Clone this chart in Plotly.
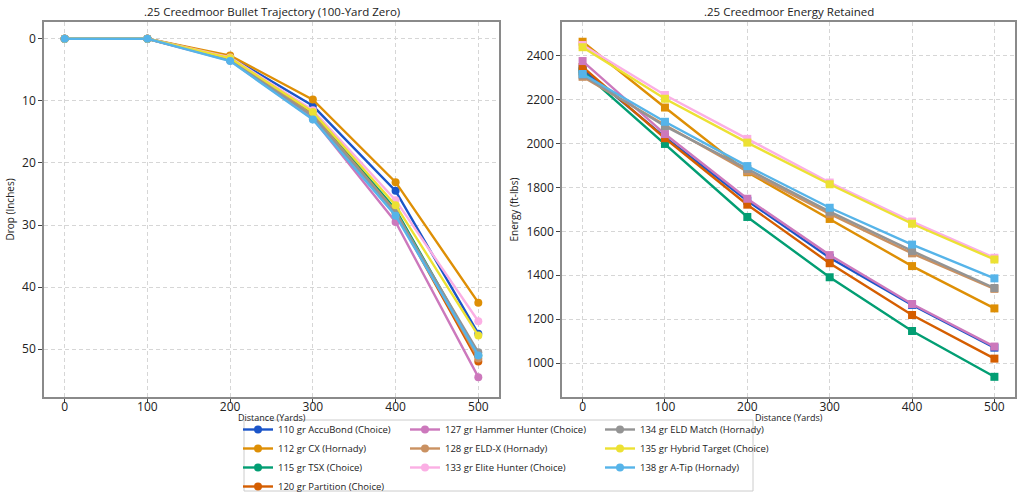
import plotly.graph_objects as go

distance = [0, 100, 200, 300, 400, 500]

names = [
    "110 gr AccuBond (Choice)",
    "112 gr CX (Hornady)",
    "115 gr TSX (Choice)",
    "120 gr Partition (Choice)",
    "127 gr Hammer Hunter (Choice)",
    "128 gr ELD-X (Hornady)",
    "133 gr Elite Hunter (Choice)",
    "134 gr ELD Match (Hornady)",
    "135 gr Hybrid Target (Choice)",
    "138 gr A-Tip (Hornady)",
]

colors = ["#1b55c9", "#DE8F05", "#029E73", "#D55E00", "#CC78BC",
          "#CA9161", "#FBAFE4", "#949494", "#ECE133", "#56B4E9"]

drop_110 = [0, 0, 2.9, 10.8, 24.5, 47.5]
drop_112 = [0, 0, 2.7, 9.8, 23.1, 42.5]
drop_115 = [0, 0, 3.2, 12.0, 27.5, 51.0]
drop_120 = [0, 0, 3.3, 12.3, 28.0, 52.0]
drop_127 = [0, 0, 3.5, 12.9, 29.5, 54.5]
drop_128 = [0, 0, 3.3, 12.3, 27.8, 51.5]
drop_133 = [0, 0, 3.0, 11.5, 26.0, 45.5]
drop_134 = [0, 0, 3.4, 12.5, 28.0, 50.5]
drop_135 = [0, 0, 3.1, 11.8, 26.8, 47.8]
drop_138 = [0, 0, 3.6, 13.0, 28.5, 51.0]

energy_110 = [2340, 2030, 1740, 1480, 1265, 1070]
energy_112 = [2465, 2165, 1870, 1657, 1442, 1249]
energy_115 = [2330, 1999, 1666, 1391, 1146, 937]
energy_120 = [2350, 2025, 1722, 1455, 1219, 1020]
energy_127 = [2377, 2044, 1749, 1492, 1269, 1075]
energy_128 = [2305, 2085, 1874, 1680, 1500, 1338]
energy_133 = [2450, 2222, 2022, 1823, 1645, 1480]
energy_134 = [2312, 2080, 1885, 1690, 1511, 1342]
energy_135 = [2440, 2205, 2005, 1815, 1635, 1472]
energy_138 = [2318, 2100, 1898, 1708, 1540, 1386]

drops = [drop_110, drop_112, drop_115, drop_120, drop_127,
         drop_128, drop_133, drop_134, drop_135, drop_138]
energies = [energy_110, energy_112, energy_115, energy_120, energy_127,
            energy_128, energy_133, energy_134, energy_135, energy_138]

legend_cols = ["legend", "legend", "legend", "legend",
               "legend2", "legend2", "legend2",
               "legend3", "legend3", "legend3"]

FONT = "Open Sans"
H_PLOT = 375.0  # plot area height in px (493 - 22 - 96)


def py(pix):
    """pixel row -> paper y"""
    return (397 - pix) / H_PLOT


fig = go.Figure()

for i, name in enumerate(names):
    fig.add_trace(go.Scatter(
        x=distance, y=drops[i], mode="lines+markers", name=name,
        line=dict(color=colors[i], width=2.4),
        marker=dict(symbol="circle", size=8, color=colors[i]),
        xaxis="x", yaxis="y", legendgroup=name, legend=legend_cols[i],
        legendrank=i))
for i, name in enumerate(names):
    fig.add_trace(go.Scatter(
        x=distance, y=energies[i], mode="lines+markers", name=name,
        line=dict(color=colors[i], width=2.4),
        marker=dict(symbol="square", size=8, color=colors[i]),
        xaxis="x2", yaxis="y2", legendgroup=name, showlegend=False))

axis_common = dict(
    showline=True, linecolor="#8a8a8a", linewidth=1.5, mirror=True,
    ticks="outside", ticklen=4, tickcolor="#444", tickwidth=1,
    showgrid=True, gridcolor="#d6d6d6", griddash="4px,3px", gridwidth=0.8,
    zeroline=False, tickfont=dict(size=12, color="#222", family=FONT),
)

fig.update_layout(
    width=1024, height=493,
    margin=dict(l=0, r=0, t=22, b=96, autoexpand=False),
    plot_bgcolor="white", paper_bgcolor="white",
    font=dict(family=FONT, color="#222"),
    xaxis=dict(domain=[44/1024, 499/1024], range=[-25, 525],
               tickvals=distance, anchor="y", ticklabelstandoff=-6,
               **axis_common),
    yaxis=dict(domain=[0, 1], range=[57.7, -2.7], tickvals=[0, 10, 20, 30, 40, 50],
               anchor="x",
               title=dict(text="Drop (Inches)", font=dict(size=10), standoff=6),
               **axis_common),
    xaxis2=dict(domain=[562/1024, 1015/1024], range=[-25, 525],
                tickvals=distance, anchor="y2", ticklabelstandoff=-6,
                **axis_common),
    yaxis2=dict(domain=[0, 1], range=[845, 2555],
                tickvals=[1000, 1200, 1400, 1600, 1800, 2000, 2200, 2400],
                anchor="x2",
                title=dict(text="Energy (ft-lbs)", font=dict(size=10), standoff=6),
                **axis_common),
    shapes=[dict(type="rect", xref="paper", yref="paper",
                 x0=244/1024, x1=753/1024,
                 y0=py(491), y1=py(420),
                 line=dict(color="#cccccc", width=1), fillcolor="white",
                 layer="above")],
    annotations=[
        dict(text=".25 Creedmoor Bullet Trajectory (100-Yard Zero)",
             x=(44+499)/2/1024, y=1, xref="paper", yref="paper",
             xanchor="center", yanchor="bottom", showarrow=False, yshift=1,
             font=dict(size=11.5, family=FONT, color="#222")),
        dict(text=".25 Creedmoor Energy Retained",
             x=(562+1015)/2/1024, y=1, xref="paper", yref="paper",
             xanchor="center", yanchor="bottom", showarrow=False, yshift=1,
             font=dict(size=11.5, family=FONT, color="#222")),
        dict(text="Distance (Yards)",
             x=(44+499)/2/1024, y=py(417.5), xref="paper", yref="paper",
             xanchor="center", yanchor="middle", showarrow=False,
             font=dict(size=9, family=FONT, color="#222")),
        dict(text="Distance (Yards)",
             x=(562+1015)/2/1024, y=py(417.5), xref="paper", yref="paper",
             xanchor="center", yanchor="middle", showarrow=False,
             font=dict(size=9, family=FONT, color="#222")),
    ],
)

leg_common = dict(xref="paper", yref="paper", yanchor="top", xanchor="left",
                  bgcolor="rgba(0,0,0,0)", borderwidth=0,
                  font=dict(size=9.5, family=FONT, color="#222"),
                  orientation="v", tracegroupgap=0, itemwidth=30)
fig.update_layout(
    legend=dict(x=238/1024, y=py(415), **leg_common),
    legend2=dict(x=405/1024, y=py(415), **leg_common),
    legend3=dict(x=600/1024, y=py(415), **leg_common),
)

fig.write_html("out.html")
